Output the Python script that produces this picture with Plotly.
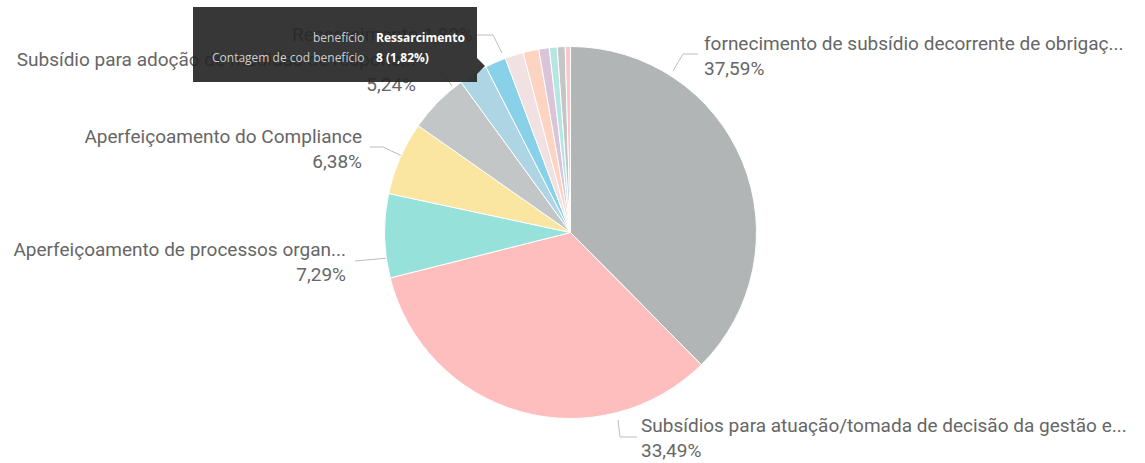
import plotly.graph_objects as go

W, H = 1145, 463

# ---- dados ----
beneficios = [
    "fornecimento de subsídio decorrente de obrigaç...",
    "Subsídios para atuação/tomada de decisão da gestão e...",
    "Aperfeiçoamento de processos organ...",
    "Aperfeiçoamento do Compliance",
    "Subsídio para adoção de medidas de respons...",
    "Outros benefícios (a)",
    "Ressarcimento",
    "Outros benefícios (b)",
    "Outros benefícios (c)",
    "Outros benefícios (d)",
    "Outros benefícios (e)",
    "Outros benefícios (f)",
    "Outros benefícios (g)",
]
contagem = [165, 147, 32, 28, 23, 11, 8, 7, 6, 4, 3, 3, 2]
cores = ["#B1B5B6", "#FFBEBE", "#96E1D9", "#FAE6A0", "#C2C6C6", "#ADD5E3",
         "#89D1E8", "#F1E1E3", "#FDD3C1", "#D9C4DA", "#B5E6E2", "#C4C6C6", "#F8C6CB"]

total = sum(contagem)
pct = [c / total * 100 for c in contagem]


def fmt(p):
    return f"{p:.2f}".replace(".", ",") + "%"


# ---- posicao dos rotulos (pixels): indice, x, y, lado, linha guia ----
rotulos = [
    (0, 704, 58, "right", [(673, 71), (683, 54), (698, 54)]),
    (1, 641, 440, "right", [(618, 420), (620, 437), (637, 437)]),
    (2, 346, 264, "left", [(355, 261), (388, 258)]),
    (3, 362, 151, "left", [(370, 147), (383, 147), (402, 156)]),
    (4, 416, 74, "left", [(421, 72), (442, 72), (452, 86)]),
    (6, 473, 36, "left", [(477, 35), (493, 35), (502, 53)]),
]

fig = go.Figure()

cx, cy, r = 570.5, 232.5, 186
fig.add_trace(go.Pie(
    labels=beneficios, values=contagem, sort=False, direction="clockwise", rotation=0,
    marker=dict(colors=cores, line=dict(color="white", width=1)),
    textinfo="none", hoverinfo="label+value+percent",
    domain=dict(x=[(cx - r) / W, (cx + r) / W], y=[1 - (cy + r) / H, 1 - (cy - r) / H]),
))

for i, x, y, lado, guia in rotulos:
    fig.add_trace(go.Scatter(
        x=[p[0] for p in guia], y=[p[1] for p in guia], mode="lines",
        line=dict(color="#BDBDBD", width=1), hoverinfo="skip",
    ))
    if i == 6:
        txt = beneficios[i] + " " + fmt(pct[i])
    else:
        txt = beneficios[i] + "<br>" + fmt(pct[i])
    fig.add_trace(go.Scatter(
        x=[x], y=[y], mode="text", text=[txt],
        textposition="middle " + lado,
        textfont=dict(family="Roboto", size=19, color="#666666"),
        hoverinfo="skip",
    ))

# ---- tooltip ----
fig.add_shape(type="rect", xref="x", yref="y", x0=193, x1=477, y0=7, y1=82,
              fillcolor="rgba(38,38,38,0.92)", line=dict(width=0), layer="above")
fig.add_shape(type="path", xref="x", yref="y", path="M 477 58 L 485 66 L 477 74 Z",
              fillcolor="rgba(38,38,38,0.92)", line=dict(width=0), layer="above")
tip = [
    ("benefício", beneficios[6]),
    ("Contagem de cod benefício", f"{contagem[6]} ({fmt(pct[6])})"),
]
for k, (nome, valor) in enumerate(tip):
    yy = 37 + k * 20
    fig.add_annotation(x=366, y=yy, xref="x", yref="y", text=nome, showarrow=False,
                       xanchor="right", font=dict(family="Open Sans", size=12, color="#CFCFCF"))
    fig.add_annotation(x=374, y=yy, xref="x", yref="y", text="<b>" + valor + "</b>", showarrow=False,
                       xanchor="left", font=dict(family="Open Sans", size=12, color="#FFFFFF"))

fig.update_xaxes(range=[0, W], visible=False, fixedrange=True)
fig.update_yaxes(range=[H, 0], visible=False, fixedrange=True)
fig.update_layout(
    width=W, height=H, margin=dict(l=0, r=0, t=0, b=0),
    paper_bgcolor="white", plot_bgcolor="white", showlegend=False,
)

fig.write_html("out.html", config={"displayModeBar": False},
               post_script="document.body.style.margin='0';")
